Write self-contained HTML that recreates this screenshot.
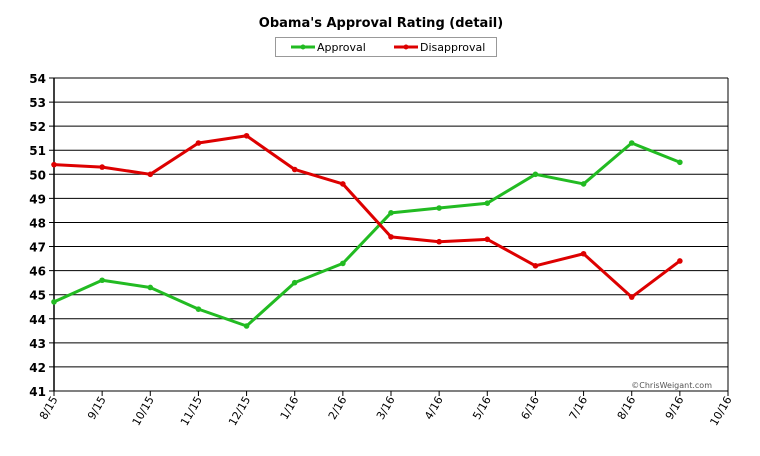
<!DOCTYPE html>
<html><head><meta charset="utf-8"><style>
body{margin:0;background:#fff;font-family:"DejaVu Sans","Liberation Sans",sans-serif;}
</style></head><body>
<svg id="chart" width="760" height="452" xmlns="http://www.w3.org/2000/svg">
<text x="381" y="27" text-anchor="middle" font-size="13" font-weight="bold">Obama's Approval Rating (detail)</text>
<g>
<rect x="275.5" y="37.5" width="221" height="19" fill="#fff" stroke="#999"/>
<g>
<line x1="291" y1="47" x2="315" y2="47" stroke="#22bb22" stroke-width="3"/><circle cx="303" cy="47" r="2.5" fill="#22bb22"/>
<text x="317" y="51" font-size="11">Approval</text></g>
<g>
<line x1="394" y1="47" x2="418" y2="47" stroke="#dd0000" stroke-width="3"/><circle cx="406" cy="47" r="2.5" fill="#dd0000"/>
<text x="420" y="51" font-size="11">Disapproval</text></g>
</g>
<g id="grid"></g><g id="series"></g>
<text x="712" y="388" text-anchor="end" font-size="8" fill="#555">©ChrisWeigant.com</text>
</svg>
<script>
const categories=["8/15","9/15","10/15","11/15","12/15","1/16","2/16","3/16","4/16","5/16","6/16","7/16","8/16","9/16","10/16"];
const approval=[44.7,45.6,45.3,44.4,43.7,45.5,46.3,48.4,48.6,48.8,50.0,49.6,51.3,50.5];
const disapproval=[50.4,50.3,50.0,51.3,51.6,50.2,49.6,47.4,47.2,47.3,46.2,46.7,44.9,46.4];
const yTicks=[41,42,43,44,45,46,47,48,49,50,51,52,53,54];
const L=54,R=728,T=78,B=391,yMin=41,yMax=54;
const ns="http://www.w3.org/2000/svg";
function x(i){return L+(R-L)*i/(categories.length-1);}
function y(v){return B-(v-yMin)/(yMax-yMin)*(B-T);}
function mk(t,a,p){const e=document.createElementNS(ns,t);for(const k in a)e.setAttribute(k,a[k]);(p).appendChild(e);return e;}
const g=document.getElementById('grid'),s=document.getElementById('series');
yTicks.forEach(v=>{
 const ln=mk('line',{x1:L-5,x2:R,y1:y(v),y2:y(v),stroke:'#000','stroke-width':1},g);
 
 
 const t=mk('text',{x:L-8,y:y(v)+5,'text-anchor':'end','font-size':12,'font-weight':'bold'},g);
 t.textContent=v;
 
 
});
const ax=mk('line',{x1:L,x2:L,y1:T,y2:B,stroke:'#000','stroke-width':1.5},g);


const rb=mk('line',{x1:R,x2:R,y1:T,y2:B,stroke:'#000'},g);


categories.forEach((c,i)=>{
 const tk=mk('line',{x1:x(i),x2:x(i),y1:B,y2:B+5,stroke:'#000'},g);
 
 
 const t=mk('text',{x:x(i)+4,y:B+8,'text-anchor':'end','font-size':11,transform:`rotate(-60 ${x(i)+4} ${B+8})`},g);
 t.textContent=c;
 
 
});
function draw(d,col,name){
 const p=mk('polyline',{points:d.map((v,i)=>x(i)+','+y(v)).join(' '),fill:'none',stroke:col,'stroke-width':3,'stroke-linejoin':'round'},s);
 
 
 d.forEach((v,i)=>{
  const c=mk('circle',{cx:x(i),cy:y(v),r:2.8,fill:col},s);
  
  
 });
}
draw(approval,'#22bb22','approval');
draw(disapproval,'#dd0000','disapproval');
</script>
</body></html>
